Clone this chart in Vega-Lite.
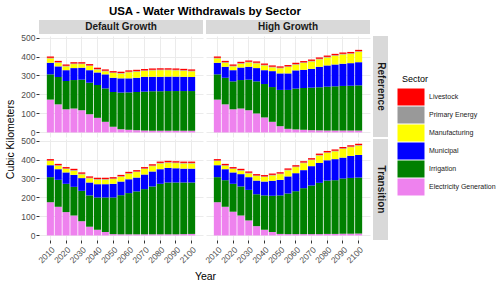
{
  "$schema": "https://vega.github.io/schema/vega-lite/v6.json",
  "padding": {"left": 5, "top": 5, "right": 0, "bottom": 0},
  "title": {"text": "USA - Water Withdrawals by Sector", "fontSize": 11.5, "fontWeight": "bold", "font": "Liberation Sans", "anchor": "middle", "dx": -46, "offset": 3, "color": "#000000"},
  "datasets": {
    "w": [
      {"Growth":"Default Growth","Policy":"Reference","Year":2010,"Electricity Generation":173,"Irrigation":133,"Municipal":61,"Manufacturing":23,"Primary Energy":3,"Livestock":7},
      {"Growth":"Default Growth","Policy":"Reference","Year":2015,"Electricity Generation":148,"Irrigation":144,"Municipal":56,"Manufacturing":19,"Primary Energy":3,"Livestock":7},
      {"Growth":"Default Growth","Policy":"Reference","Year":2020,"Electricity Generation":122,"Irrigation":149,"Municipal":57,"Manufacturing":20,"Primary Energy":3,"Livestock":7},
      {"Growth":"Default Growth","Policy":"Reference","Year":2025,"Electricity Generation":126,"Irrigation":150,"Municipal":63,"Manufacturing":21,"Primary Energy":3,"Livestock":7},
      {"Growth":"Default Growth","Policy":"Reference","Year":2030,"Electricity Generation":117,"Irrigation":161,"Municipal":63,"Manufacturing":19,"Primary Energy":3,"Livestock":7},
      {"Growth":"Default Growth","Policy":"Reference","Year":2035,"Electricity Generation":96,"Irrigation":166,"Municipal":66,"Manufacturing":22,"Primary Energy":3,"Livestock":7},
      {"Growth":"Default Growth","Policy":"Reference","Year":2040,"Electricity Generation":77,"Irrigation":173,"Municipal":66,"Manufacturing":15,"Primary Energy":3,"Livestock":7},
      {"Growth":"Default Growth","Policy":"Reference","Year":2045,"Electricity Generation":56,"Irrigation":176,"Municipal":74,"Manufacturing":16,"Primary Energy":3,"Livestock":7},
      {"Growth":"Default Growth","Policy":"Reference","Year":2050,"Electricity Generation":30,"Irrigation":183,"Municipal":75,"Manufacturing":25,"Primary Energy":3,"Livestock":7},
      {"Growth":"Default Growth","Policy":"Reference","Year":2055,"Electricity Generation":17,"Irrigation":193,"Municipal":75,"Manufacturing":25,"Primary Energy":3,"Livestock":7},
      {"Growth":"Default Growth","Policy":"Reference","Year":2060,"Electricity Generation":14,"Irrigation":197,"Municipal":74,"Manufacturing":32,"Primary Energy":3,"Livestock":7},
      {"Growth":"Default Growth","Policy":"Reference","Year":2065,"Electricity Generation":12,"Irrigation":201,"Municipal":75,"Manufacturing":32,"Primary Energy":3,"Livestock":7},
      {"Growth":"Default Growth","Policy":"Reference","Year":2070,"Electricity Generation":10,"Irrigation":205,"Municipal":78,"Manufacturing":31,"Primary Energy":3,"Livestock":7},
      {"Growth":"Default Growth","Policy":"Reference","Year":2075,"Electricity Generation":9,"Irrigation":208,"Municipal":76,"Manufacturing":34,"Primary Energy":3,"Livestock":7},
      {"Growth":"Default Growth","Policy":"Reference","Year":2080,"Electricity Generation":9,"Irrigation":208,"Municipal":76,"Manufacturing":35,"Primary Energy":3,"Livestock":7},
      {"Growth":"Default Growth","Policy":"Reference","Year":2085,"Electricity Generation":9,"Irrigation":209,"Municipal":76,"Manufacturing":34,"Primary Energy":3,"Livestock":7},
      {"Growth":"Default Growth","Policy":"Reference","Year":2090,"Electricity Generation":9,"Irrigation":209,"Municipal":76,"Manufacturing":33,"Primary Energy":3,"Livestock":7},
      {"Growth":"Default Growth","Policy":"Reference","Year":2095,"Electricity Generation":9,"Irrigation":209,"Municipal":75,"Manufacturing":32,"Primary Energy":3,"Livestock":7},
      {"Growth":"Default Growth","Policy":"Reference","Year":2100,"Electricity Generation":9,"Irrigation":209,"Municipal":74,"Manufacturing":30,"Primary Energy":3,"Livestock":7},

      {"Growth":"High Growth","Policy":"Reference","Year":2010,"Electricity Generation":173,"Irrigation":133,"Municipal":61,"Manufacturing":23,"Primary Energy":3,"Livestock":7},
      {"Growth":"High Growth","Policy":"Reference","Year":2015,"Electricity Generation":148,"Irrigation":140,"Municipal":58,"Manufacturing":21,"Primary Energy":3,"Livestock":7},
      {"Growth":"High Growth","Policy":"Reference","Year":2020,"Electricity Generation":122,"Irrigation":147,"Municipal":59,"Manufacturing":20,"Primary Energy":3,"Livestock":7},
      {"Growth":"High Growth","Policy":"Reference","Year":2025,"Electricity Generation":126,"Irrigation":150,"Municipal":66,"Manufacturing":20,"Primary Energy":3,"Livestock":7},
      {"Growth":"High Growth","Policy":"Reference","Year":2030,"Electricity Generation":117,"Irrigation":161,"Municipal":68,"Manufacturing":23,"Primary Energy":3,"Livestock":7},
      {"Growth":"High Growth","Policy":"Reference","Year":2035,"Electricity Generation":100,"Irrigation":169,"Municipal":70,"Manufacturing":25,"Primary Energy":3,"Livestock":7},
      {"Growth":"High Growth","Policy":"Reference","Year":2040,"Electricity Generation":79,"Irrigation":176,"Municipal":73,"Manufacturing":25,"Primary Energy":3,"Livestock":7},
      {"Growth":"High Growth","Policy":"Reference","Year":2045,"Electricity Generation":56,"Irrigation":183,"Municipal":84,"Manufacturing":20,"Primary Energy":3,"Livestock":7},
      {"Growth":"High Growth","Policy":"Reference","Year":2050,"Electricity Generation":33,"Irrigation":191,"Municipal":87,"Manufacturing":27,"Primary Energy":3,"Livestock":7},
      {"Growth":"High Growth","Policy":"Reference","Year":2055,"Electricity Generation":19,"Irrigation":205,"Municipal":87,"Manufacturing":34,"Primary Energy":3,"Livestock":7},
      {"Growth":"High Growth","Policy":"Reference","Year":2060,"Electricity Generation":16,"Irrigation":215,"Municipal":96,"Manufacturing":30,"Primary Energy":3,"Livestock":7},
      {"Growth":"High Growth","Policy":"Reference","Year":2065,"Electricity Generation":14,"Irrigation":220,"Municipal":96,"Manufacturing":36,"Primary Energy":3,"Livestock":7},
      {"Growth":"High Growth","Policy":"Reference","Year":2070,"Electricity Generation":12,"Irrigation":224,"Municipal":99,"Manufacturing":39,"Primary Energy":3,"Livestock":7},
      {"Growth":"High Growth","Policy":"Reference","Year":2075,"Electricity Generation":11,"Irrigation":227,"Municipal":108,"Manufacturing":39,"Primary Energy":3,"Livestock":7},
      {"Growth":"High Growth","Policy":"Reference","Year":2080,"Electricity Generation":10,"Irrigation":231,"Municipal":112,"Manufacturing":42,"Primary Energy":3,"Livestock":7},
      {"Growth":"High Growth","Policy":"Reference","Year":2085,"Electricity Generation":10,"Irrigation":233,"Municipal":115,"Manufacturing":46,"Primary Energy":3,"Livestock":7},
      {"Growth":"High Growth","Policy":"Reference","Year":2090,"Electricity Generation":10,"Irrigation":235,"Municipal":117,"Manufacturing":49,"Primary Energy":3,"Livestock":7},
      {"Growth":"High Growth","Policy":"Reference","Year":2095,"Electricity Generation":10,"Irrigation":236,"Municipal":119,"Manufacturing":49,"Primary Energy":3,"Livestock":7},
      {"Growth":"High Growth","Policy":"Reference","Year":2100,"Electricity Generation":10,"Irrigation":238,"Municipal":122,"Manufacturing":55,"Primary Energy":3,"Livestock":7},

      {"Growth":"Default Growth","Policy":"Transition","Year":2010,"Electricity Generation":175,"Irrigation":132,"Municipal":63,"Manufacturing":22,"Primary Energy":3,"Livestock":7},
      {"Growth":"Default Growth","Policy":"Transition","Year":2015,"Electricity Generation":151,"Irrigation":142,"Municipal":56,"Manufacturing":18,"Primary Energy":3,"Livestock":7},
      {"Growth":"Default Growth","Policy":"Transition","Year":2020,"Electricity Generation":123,"Irrigation":149,"Municipal":60,"Manufacturing":18,"Primary Energy":3,"Livestock":7},
      {"Growth":"Default Growth","Policy":"Transition","Year":2025,"Electricity Generation":105,"Irrigation":151,"Municipal":63,"Manufacturing":22,"Primary Energy":3,"Livestock":7},
      {"Growth":"Default Growth","Policy":"Transition","Year":2030,"Electricity Generation":75,"Irrigation":160,"Municipal":67,"Manufacturing":20,"Primary Energy":3,"Livestock":7},
      {"Growth":"Default Growth","Policy":"Transition","Year":2035,"Electricity Generation":46,"Irrigation":165,"Municipal":68,"Manufacturing":22,"Primary Energy":3,"Livestock":7},
      {"Growth":"Default Growth","Policy":"Transition","Year":2040,"Electricity Generation":30,"Irrigation":170,"Municipal":70,"Manufacturing":24,"Primary Energy":3,"Livestock":7},
      {"Growth":"Default Growth","Policy":"Transition","Year":2045,"Electricity Generation":18,"Irrigation":182,"Municipal":70,"Manufacturing":24,"Primary Energy":3,"Livestock":7},
      {"Growth":"Default Growth","Policy":"Transition","Year":2050,"Electricity Generation":7,"Irrigation":193,"Municipal":72,"Manufacturing":25,"Primary Energy":3,"Livestock":7},
      {"Growth":"Default Growth","Policy":"Transition","Year":2055,"Electricity Generation":6,"Irrigation":206,"Municipal":72,"Manufacturing":25,"Primary Energy":3,"Livestock":7},
      {"Growth":"Default Growth","Policy":"Transition","Year":2060,"Electricity Generation":6,"Irrigation":217,"Municipal":73,"Manufacturing":29,"Primary Energy":3,"Livestock":7},
      {"Growth":"Default Growth","Policy":"Transition","Year":2065,"Electricity Generation":6,"Irrigation":226,"Municipal":73,"Manufacturing":29,"Primary Energy":3,"Livestock":7},
      {"Growth":"Default Growth","Policy":"Transition","Year":2070,"Electricity Generation":6,"Irrigation":238,"Municipal":77,"Manufacturing":29,"Primary Energy":3,"Livestock":7},
      {"Growth":"Default Growth","Policy":"Transition","Year":2075,"Electricity Generation":6,"Irrigation":252,"Municipal":79,"Manufacturing":28,"Primary Energy":3,"Livestock":7},
      {"Growth":"Default Growth","Policy":"Transition","Year":2080,"Electricity Generation":6,"Irrigation":266,"Municipal":77,"Manufacturing":30,"Primary Energy":3,"Livestock":7},
      {"Growth":"Default Growth","Policy":"Transition","Year":2085,"Electricity Generation":6,"Irrigation":273,"Municipal":77,"Manufacturing":27,"Primary Energy":3,"Livestock":7},
      {"Growth":"Default Growth","Policy":"Transition","Year":2090,"Electricity Generation":6,"Irrigation":273,"Municipal":75,"Manufacturing":27,"Primary Energy":3,"Livestock":7},
      {"Growth":"Default Growth","Policy":"Transition","Year":2095,"Electricity Generation":7,"Irrigation":272,"Municipal":73,"Manufacturing":27,"Primary Energy":3,"Livestock":7},
      {"Growth":"Default Growth","Policy":"Transition","Year":2100,"Electricity Generation":8,"Irrigation":271,"Municipal":73,"Manufacturing":27,"Primary Energy":3,"Livestock":7},

      {"Growth":"High Growth","Policy":"Transition","Year":2010,"Electricity Generation":175,"Irrigation":132,"Municipal":63,"Manufacturing":22,"Primary Energy":3,"Livestock":7},
      {"Growth":"High Growth","Policy":"Transition","Year":2015,"Electricity Generation":151,"Irrigation":140,"Municipal":58,"Manufacturing":18,"Primary Energy":3,"Livestock":7},
      {"Growth":"High Growth","Policy":"Transition","Year":2020,"Electricity Generation":125,"Irrigation":147,"Municipal":60,"Manufacturing":18,"Primary Energy":3,"Livestock":7},
      {"Growth":"High Growth","Policy":"Transition","Year":2025,"Electricity Generation":105,"Irrigation":153,"Municipal":65,"Manufacturing":18,"Primary Energy":3,"Livestock":7},
      {"Growth":"High Growth","Policy":"Transition","Year":2030,"Electricity Generation":79,"Irrigation":161,"Municipal":67,"Manufacturing":20,"Primary Energy":3,"Livestock":7},
      {"Growth":"High Growth","Policy":"Transition","Year":2035,"Electricity Generation":49,"Irrigation":168,"Municipal":72,"Manufacturing":24,"Primary Energy":3,"Livestock":7},
      {"Growth":"High Growth","Policy":"Transition","Year":2040,"Electricity Generation":30,"Irrigation":181,"Municipal":73,"Manufacturing":24,"Primary Energy":3,"Livestock":7},
      {"Growth":"High Growth","Policy":"Transition","Year":2045,"Electricity Generation":18,"Irrigation":191,"Municipal":79,"Manufacturing":28,"Primary Energy":3,"Livestock":7},
      {"Growth":"High Growth","Policy":"Transition","Year":2050,"Electricity Generation":8,"Irrigation":203,"Municipal":82,"Manufacturing":30,"Primary Energy":3,"Livestock":7},
      {"Growth":"High Growth","Policy":"Transition","Year":2055,"Electricity Generation":7,"Irrigation":214,"Municipal":90,"Manufacturing":32,"Primary Energy":3,"Livestock":7},
      {"Growth":"High Growth","Policy":"Transition","Year":2060,"Electricity Generation":7,"Irrigation":226,"Municipal":95,"Manufacturing":32,"Primary Energy":3,"Livestock":7},
      {"Growth":"High Growth","Policy":"Transition","Year":2065,"Electricity Generation":7,"Irrigation":242,"Municipal":95,"Manufacturing":37,"Primary Energy":3,"Livestock":7},
      {"Growth":"High Growth","Policy":"Transition","Year":2070,"Electricity Generation":7,"Irrigation":256,"Municipal":102,"Manufacturing":32,"Primary Energy":3,"Livestock":7},
      {"Growth":"High Growth","Policy":"Transition","Year":2075,"Electricity Generation":7,"Irrigation":270,"Municipal":105,"Manufacturing":39,"Primary Energy":3,"Livestock":7},
      {"Growth":"High Growth","Policy":"Transition","Year":2080,"Electricity Generation":8,"Irrigation":281,"Municipal":107,"Manufacturing":39,"Primary Energy":3,"Livestock":7},
      {"Growth":"High Growth","Policy":"Transition","Year":2085,"Electricity Generation":8,"Irrigation":283,"Municipal":111,"Manufacturing":41,"Primary Energy":3,"Livestock":7},
      {"Growth":"High Growth","Policy":"Transition","Year":2090,"Electricity Generation":9,"Irrigation":291,"Municipal":110,"Manufacturing":46,"Primary Energy":3,"Livestock":7},
      {"Growth":"High Growth","Policy":"Transition","Year":2095,"Electricity Generation":9,"Irrigation":294,"Municipal":116,"Manufacturing":46,"Primary Energy":3,"Livestock":7},
      {"Growth":"High Growth","Policy":"Transition","Year":2100,"Electricity Generation":10,"Irrigation":295,"Municipal":119,"Manufacturing":49,"Primary Energy":3,"Livestock":7}
    ]
  },
  "columns": 3,
  "spacing": {"row": 2, "column": 3},
  "bounds": "flush",
  "align": "each",
  "concat": [
    {"width": 164, "height": 14, "view": {"fill": "#D9D9D9", "stroke": null}, "data": {"values": [{"label": "Default Growth"}]}, "mark": {"type": "text", "fontSize": 10, "fontWeight": "bold", "color": "#1A1A1A", "baseline": "middle"}, "encoding": {"text": {"field": "label"}}},
    {"width": 164, "height": 14, "view": {"fill": "#D9D9D9", "stroke": null}, "data": {"values": [{"label": "High Growth"}]}, "mark": {"type": "text", "fontSize": 10, "fontWeight": "bold", "color": "#1A1A1A", "baseline": "middle"}, "encoding": {"text": {"field": "label"}}},
    {"width": 15, "height": 14, "data": {"values": [{"label": ""}]}, "mark": {"type": "text"}, "encoding": {"text": {"field": "label"}}},
    {
      "width": 164, "height": 101,
      "data": {"name": "w"},
      "transform": [
        {"filter": "datum.Growth === 'Default Growth' && datum.Policy === 'Reference'"},
        {"fold": ["Electricity Generation","Irrigation","Municipal","Manufacturing","Primary Energy","Livestock"], "as": ["Sector","value"]},
        {"calculate": "indexof(['Electricity Generation','Irrigation','Municipal','Manufacturing','Primary Energy','Livestock'], datum.Sector)", "as": "stackIdx"}
      ],
      "mark": {"type": "bar"},
      "encoding": {
        "x": {"field": "Year", "type": "ordinal", "scale": {"paddingInner": 0.1, "paddingOuter": 1.4}, "axis": {"values": [2010,2020,2030,2040,2050,2060,2070,2080,2090,2100], "labels": false, "ticks": false, "title": null, "grid": true, "bandPosition": 0.5}},
        "y": {"field": "value", "type": "quantitative", "stack": "zero", "scale": {"domain": [-24, 508], "nice": false}, "axis": {"values": [0,100,200,300,400,500], "title": "Cubic Kilometers", "titleY": 103, "titlePadding": 5}},
        "color": {"field": "Sector", "type": "nominal", "title": "Sector", "scale": {"domain": ["Livestock","Primary Energy","Manufacturing","Municipal","Irrigation","Electricity Generation"], "range": ["#FF0000","#999999","#FFFF00","#0000FF","#008000","#EE82EE"]}, "legend": {"orient": "none", "legendX": 363, "legendY": 55}},
        "order": {"field": "stackIdx", "type": "quantitative"}
      }
    },
    {
      "width": 164, "height": 101,
      "data": {"name": "w"},
      "transform": [
        {"filter": "datum.Growth === 'High Growth' && datum.Policy === 'Reference'"},
        {"fold": ["Electricity Generation","Irrigation","Municipal","Manufacturing","Primary Energy","Livestock"], "as": ["Sector","value"]},
        {"calculate": "indexof(['Electricity Generation','Irrigation','Municipal','Manufacturing','Primary Energy','Livestock'], datum.Sector)", "as": "stackIdx"}
      ],
      "mark": {"type": "bar"},
      "encoding": {
        "x": {"field": "Year", "type": "ordinal", "scale": {"paddingInner": 0.1, "paddingOuter": 1.4}, "axis": {"values": [2010,2020,2030,2040,2050,2060,2070,2080,2090,2100], "labels": false, "ticks": false, "title": null, "grid": true, "bandPosition": 0.5}},
        "y": {"field": "value", "type": "quantitative", "stack": "zero", "scale": {"domain": [-24, 508], "nice": false}, "axis": {"values": [0,100,200,300,400,500], "labels": false, "ticks": false, "title": null}},
        "color": {"field": "Sector", "type": "nominal", "title": "Sector", "scale": {"domain": ["Livestock","Primary Energy","Manufacturing","Municipal","Irrigation","Electricity Generation"], "range": ["#FF0000","#999999","#FFFF00","#0000FF","#008000","#EE82EE"]}, "legend": {"orient": "none", "legendX": 363, "legendY": 55}},
        "order": {"field": "stackIdx", "type": "quantitative"}
      }
    },
    {"width": 15, "height": 101, "view": {"fill": "#D9D9D9", "stroke": null}, "data": {"values": [{"label": "Reference"}]}, "mark": {"type": "text", "fontSize": 10, "fontWeight": "bold", "color": "#1A1A1A", "angle": 90, "baseline": "middle"}, "encoding": {"text": {"field": "label"}}},
    {
      "width": 164, "height": 101,
      "data": {"name": "w"},
      "transform": [
        {"filter": "datum.Growth === 'Default Growth' && datum.Policy === 'Transition'"},
        {"fold": ["Electricity Generation","Irrigation","Municipal","Manufacturing","Primary Energy","Livestock"], "as": ["Sector","value"]},
        {"calculate": "indexof(['Electricity Generation','Irrigation','Municipal','Manufacturing','Primary Energy','Livestock'], datum.Sector)", "as": "stackIdx"}
      ],
      "mark": {"type": "bar"},
      "encoding": {
        "x": {"field": "Year", "type": "ordinal", "scale": {"paddingInner": 0.1, "paddingOuter": 1.4}, "axis": {"values": [2010,2020,2030,2040,2050,2060,2070,2080,2090,2100], "labelAngle": -45, "labelPadding": 2, "title": "Year", "titleX": 166, "titlePadding": 7, "grid": true, "bandPosition": 0.5}},
        "y": {"field": "value", "type": "quantitative", "stack": "zero", "scale": {"domain": [-24, 508], "nice": false}, "axis": {"values": [0,100,200,300,400,500], "title": null}},
        "color": {"field": "Sector", "type": "nominal", "title": "Sector", "scale": {"domain": ["Livestock","Primary Energy","Manufacturing","Municipal","Irrigation","Electricity Generation"], "range": ["#FF0000","#999999","#FFFF00","#0000FF","#008000","#EE82EE"]}, "legend": {"orient": "none", "legendX": 363, "legendY": 55}},
        "order": {"field": "stackIdx", "type": "quantitative"}
      }
    },
    {
      "width": 164, "height": 101,
      "data": {"name": "w"},
      "transform": [
        {"filter": "datum.Growth === 'High Growth' && datum.Policy === 'Transition'"},
        {"fold": ["Electricity Generation","Irrigation","Municipal","Manufacturing","Primary Energy","Livestock"], "as": ["Sector","value"]},
        {"calculate": "indexof(['Electricity Generation','Irrigation','Municipal','Manufacturing','Primary Energy','Livestock'], datum.Sector)", "as": "stackIdx"}
      ],
      "mark": {"type": "bar"},
      "encoding": {
        "x": {"field": "Year", "type": "ordinal", "scale": {"paddingInner": 0.1, "paddingOuter": 1.4}, "axis": {"values": [2010,2020,2030,2040,2050,2060,2070,2080,2090,2100], "labelAngle": -45, "labelPadding": 2, "title": null, "grid": true, "bandPosition": 0.5}},
        "y": {"field": "value", "type": "quantitative", "stack": "zero", "scale": {"domain": [-24, 508], "nice": false}, "axis": {"values": [0,100,200,300,400,500], "labels": false, "ticks": false, "title": null}},
        "color": {"field": "Sector", "type": "nominal", "title": "Sector", "scale": {"domain": ["Livestock","Primary Energy","Manufacturing","Municipal","Irrigation","Electricity Generation"], "range": ["#FF0000","#999999","#FFFF00","#0000FF","#008000","#EE82EE"]}, "legend": {"orient": "none", "legendX": 363, "legendY": 55}},
        "order": {"field": "stackIdx", "type": "quantitative"}
      }
    },
    {"width": 15, "height": 101, "view": {"fill": "#D9D9D9", "stroke": null}, "data": {"values": [{"label": "Transition"}]}, "mark": {"type": "text", "fontSize": 10, "fontWeight": "bold", "color": "#1A1A1A", "angle": 90, "baseline": "middle"}, "encoding": {"text": {"field": "label"}}}
  ],
  "config": {
    "font": "Liberation Sans",
    "view": {"stroke": null},
    "bar": {"stroke": null},
    "axis": {"domain": false, "labelFont": "Liberation Sans", "labelFontSize": 8.5, "labelColor": "#4D4D4D", "tickColor": "#333333", "tickSize": 3, "labelPadding": 1, "gridColor": "#EBEBEB", "gridWidth": 1, "titleFont": "Liberation Sans", "titleFontSize": 10.5, "titleFontWeight": "normal", "titleColor": "#000000"},
    "legend": {"titleFont": "Liberation Sans", "titleFontSize": 9, "titleFontWeight": "normal", "titleColor": "#000000", "titlePadding": 4, "labelFont": "Liberation Sans", "labelFontSize": 7, "labelColor": "#1A1A1A", "symbolType": "M-1.5,-0.944H1.5V0.944H-1.5Z", "symbolSize": 324, "symbolStrokeWidth": 0, "symbolOpacity": 1, "rowPadding": 0, "labelOffset": 9, "padding": 0}
  }
}
